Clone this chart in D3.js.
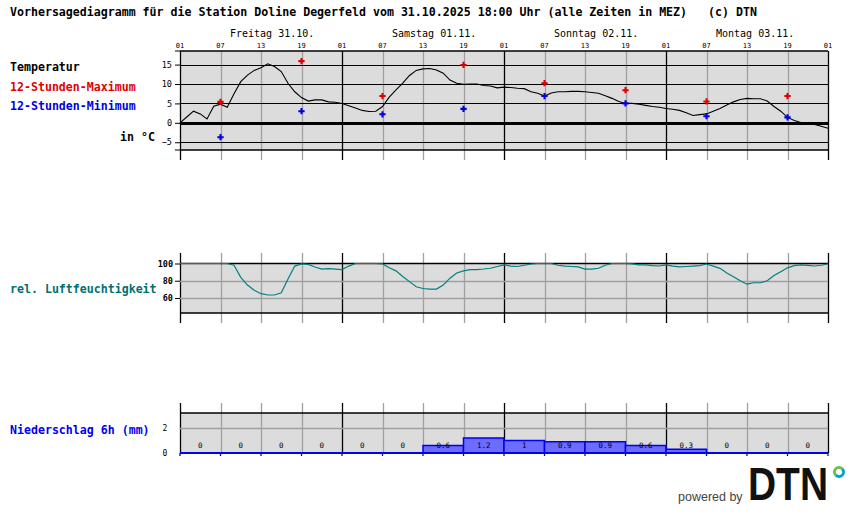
<!DOCTYPE html>
<html><head><meta charset="utf-8">
<script src="https://cdn.jsdelivr.net/npm/d3@7"></script>
<style>
html,body{margin:0;padding:0;background:#fff;}
svg{display:block;}
text{font-family:"DejaVu Sans Mono",monospace;}
</style></head>
<body>
<svg id="chart" width="850" height="524"></svg>
<script>
// ---------- DATA ----------
const titleText = "Vorhersagediagramm für die Station Doline Degerfeld vom 31.10.2025 18:00 Uhr (alle Zeiten in MEZ)   (c) DTN";
const dayLabels = ["Freitag 31.10.", "Samstag 01.11.", "Sonntag 02.11.", "Montag 03.11."];
const hourTickLabels = ["01","07","13","19","01","07","13","19","01","07","13","19","01","07","13","19","01"];
const tempTicks = [15, 10, 5, 0, -5];
const humTicks = [100, 80, 60];
const precTicks = [2, 0];
// hourly temperature (°C), from 31.10. 01:00 to 04.11. 01:00
const temperature = [0.0,1.5,3.0,2.3,1.0,4.3,4.8,4.0,7.5,10.6,12.3,13.5,14.2,15.2,14.5,13.2,10.2,8.0,6.5,5.6,5.9,5.9,5.4,5.3,
  5.0,4.4,3.8,3.2,2.9,3.0,4.2,6.6,8.5,10.2,12.2,13.5,13.9,14.0,13.6,12.8,11.0,10.2,9.9,10.0,10.0,9.6,9.5,9.0,
  9.2,9.1,8.9,8.8,8.0,7.6,6.9,7.7,8.0,8.0,8.1,8.1,8.0,7.8,7.6,7.0,6.3,5.5,5.0,5.0,4.8,4.5,4.2,4.0,
  3.7,3.5,3.2,2.6,1.9,2.1,2.3,3.0,3.7,4.6,5.4,6.0,6.3,6.2,6.2,5.6,4.2,3.0,1.4,0.6,0.1,-0.2,-0.4,-0.9,-1.4];
// 12-hour max/min at 07 and 19 each day
const maxHours = [6, 18, 30, 42, 54, 66, 78, 90];
const tempMax = [5.4, 15.9, 6.9, 14.9, 10.2, 8.4, 5.5, 6.9];
const tempMin = [-3.7, 3.0, 2.2, 3.6, 6.9, 5.0, 1.7, 1.4];
// hourly relative humidity (%)
const humidity = [100,100,100,100,100,100,100,100,98,84,75,69,65,63.5,63.5,66,82,97,99.5,99,96,93.5,94,93.5,
  93,97,100,100,100,100,99.5,95,91.5,85,79,73,71,70.4,70.4,75,83,89,91.5,92.8,93,93.6,94.5,96.5,
  98.5,97,96.5,98,99.4,100,100,100,98,97,96.5,96,93.4,93.4,94.5,98,100,100,100,99.5,98.3,98.3,97.5,97.1,
  98.3,97,96,96.5,97,97.5,99.4,97,94.4,89,84.7,80,76,77.7,77.7,80,86,90.5,95,97.5,98.3,97.8,97.1,98,99.4];
// 6-hour precipitation (mm)
const precipitation = [0,0,0,0, 0,0,0.6,1.2, 1,0.9,0.9,0.6, 0.3,0,0,0];

// ---------- LAYOUT ----------
const svg = d3.select("#chart");
const X0 = 180, X1 = 828;
const x = d3.scaleLinear().domain([0, 96]).range([X0, X1]);
const yT = d3.scaleLinear().domain([-7, 18.5]).range([150, 51]);
const yH = d3.scaleLinear().domain([42.6, 100]).range([313, 263.5]);
const yP = d3.scaleLinear().domain([0, 3.2]).range([453, 413]);
const PANEL = "#dcdcdc", GRID = "#a0a0a0";
const tickHours = d3.range(0, 97, 6);

// title
svg.append("text").attr("x", 10).attr("y", 16).attr("font-size", "11.6px").attr("font-weight", "bold")
  .attr("fill", "#000").attr("xml:space", "preserve").style("white-space", "pre").text(titleText);

// day labels
svg.selectAll(".day").data(dayLabels).join("text")
  .attr("x", (d, i) => x(i * 24) + 50).attr("y", 37).attr("font-size", "10px").attr("fill", "#000").text(d => d);

// hour labels
svg.selectAll(".hl").data(tickHours).join("text")
  .attr("x", d => x(d)).attr("y", 48).attr("text-anchor", "middle").attr("font-size", "7px").attr("fill", "#000")
  .text((d, i) => hourTickLabels[i]);

function panel(y0, y1, ext0, ext1) {
  const g = svg.append("g");
  g.append("rect").attr("x", X0).attr("y", y0).attr("width", X1 - X0).attr("height", y1 - y0).attr("fill", PANEL);
  g.selectAll("line.v").data(tickHours).join("line")
    .attr("x1", d => Math.round(x(d)) + 0.5).attr("x2", d => Math.round(x(d)) + 0.5)
    .attr("y1", ext0).attr("y2", ext1)
    .attr("stroke", d => d % 24 === 0 ? "#000" : GRID).attr("stroke-width", 1.3);
  return g;
}
function hline(y, color, w) {
  svg.append("line").attr("x1", X0).attr("x2", X1).attr("y1", y).attr("y2", y).attr("stroke", color).attr("stroke-width", w);
}

// ---------- TEMPERATURE PANEL ----------
panel(51, 150, 51, 160);
tempTicks.forEach(t => hline(Math.round(yT(t)) + 0.5, "#000", t === 0 ? 3 : 1));
hline(51, "#000", 1.5); hline(150, "#000", 1.5);
const axT = d3.axisLeft(yT).tickValues(tempTicks).tickSize(5).tickPadding(3).tickFormat(d3.format("d"));
const gT = svg.append("g").attr("transform", `translate(${X0},0)`).call(axT);
gT.select(".domain").remove();
gT.selectAll("line").attr("stroke", "#000");
gT.selectAll("text").attr("font-size", "8.5px").attr("font-family", "DejaVu Sans Mono");
svg.selectAll(".tt").data([51, 150]).join("line").attr("x1", X0 - 5).attr("x2", X0).attr("y1", d => d).attr("y2", d => d).attr("stroke", "#000");

svg.append("path").datum(temperature)
  .attr("d", d3.line().x((d, i) => x(i)).y(d => yT(d)))
  .attr("fill", "none").attr("stroke", "#000").attr("stroke-width", 1.1);

const sym = d3.symbol().type(d3.symbolCross).size(22);
svg.selectAll(".mx").data(tempMax).join("path").attr("d", sym)
  .attr("transform", (d, i) => `translate(${x(maxHours[i])},${yT(d)})`).attr("fill", "#e00000");
svg.selectAll(".mn").data(tempMin).join("path").attr("d", sym)
  .attr("transform", (d, i) => `translate(${x(maxHours[i])},${yT(d)})`).attr("fill", "#0000e0");

const lab = (t, xx, yy, c, anchor) => svg.append("text").attr("x", xx).attr("y", yy).attr("font-size", "11.6px")
  .attr("font-weight", "bold").attr("fill", c).attr("text-anchor", anchor || "start").text(t);
lab("Temperatur", 10, 71, "#000");
lab("12-Stunden-Maximum", 10, 91, "#e00000");
lab("12-Stunden-Minimum", 10, 110, "#0000e0");
lab("in °C", 155, 141, "#000", "end");

// ---------- HUMIDITY PANEL ----------
panel(263, 313, 253, 323);
[80, 60].forEach(h => hline(Math.round(yH(h)) + 0.5, GRID, 1.3));
hline(263.5, "#000", 1.5); hline(313, "#000", 1.5);
const axH = d3.axisLeft(yH).tickValues(humTicks).tickSize(5).tickPadding(2);
const gH = svg.append("g").attr("transform", `translate(${X0},0)`).call(axH);
gH.select(".domain").remove();
gH.selectAll("line").attr("stroke", "#000");
gH.selectAll("text").attr("font-size", "8.5px").attr("font-weight", "bold").attr("font-family", "DejaVu Sans Mono");
svg.append("path").datum(humidity)
  .attr("d", d3.line().x((d, i) => x(i)).y(d => yH(d)))
  .attr("fill", "none").attr("stroke", "#008080").attr("stroke-width", 1.2);
lab("rel. Luftfeuchtigkeit", 10, 293, "#007070");

// ---------- PRECIPITATION PANEL ----------
panel(413, 453, 403, 453);
hline(Math.round(yP(2)) + 0.5, GRID, 1.3);
hline(413, "#000", 1.5);
svg.selectAll(".pb").data(precipitation).join("rect")
  .attr("x", (d, i) => x(i * 6)).attr("width", x(6) - x(0))
  .attr("y", d => yP(d)).attr("height", d => yP(0) - yP(d))
  .attr("fill", "#6c6cff").attr("stroke", "#0000ee").attr("stroke-width", 1.5);
svg.append("line").attr("x1", X0).attr("x2", X1).attr("y1", 453).attr("y2", 453).attr("stroke", "#0000ee").attr("stroke-width", 2);
svg.selectAll(".pt").data(tickHours).join("line")
  .attr("x1", d => x(d)).attr("x2", d => x(d)).attr("y1", 453).attr("y2", 456).attr("stroke", "#0000ee").attr("stroke-width", 1.3);
svg.selectAll(".pl").data(precipitation).join("text")
  .attr("x", (d, i) => x(i * 6 + 3)).attr("y", 448).attr("text-anchor", "middle")
  .attr("font-size", "7.5px").attr("fill", "#000").text(d => d);
svg.selectAll(".pyl").data(precTicks).join("text")
  .attr("x", 165).attr("y", d => yP(d) + 3).attr("text-anchor", "middle").attr("font-size", "8px").attr("fill", "#000").text(d => d);
lab("Niederschlag 6h (mm)", 10, 434, "#0000ee");

// ---------- LOGO ----------
svg.append("text").attr("x", 678).attr("y", 501).attr("font-family", "Liberation Sans, Arial, sans-serif").style("font-family", "Liberation Sans, Arial, sans-serif")
  .attr("font-size", "12.5px").attr("fill", "#444").text("powered by");
svg.append("text").attr("x", 748).attr("y", 500).style("font-family", "Liberation Sans, Arial, sans-serif")
  .attr("font-size", "47px").attr("font-weight", "bold").attr("fill", "#111")
  .attr("textLength", 80).attr("lengthAdjust", "spacingAndGlyphs").text("DTN");
svg.append("path").attr("d", d3.arc()({innerRadius: 3, outerRadius: 6, startAngle: -Math.PI * 0.75, endAngle: Math.PI * 0.25}))
  .attr("transform", "translate(839,472)").attr("fill", "#6cc04a");
svg.append("path").attr("d", d3.arc()({innerRadius: 3, outerRadius: 6, startAngle: Math.PI * 0.25, endAngle: Math.PI * 1.25}))
  .attr("transform", "translate(839,472)").attr("fill", "#00a0e0");
</script>
</body></html>
